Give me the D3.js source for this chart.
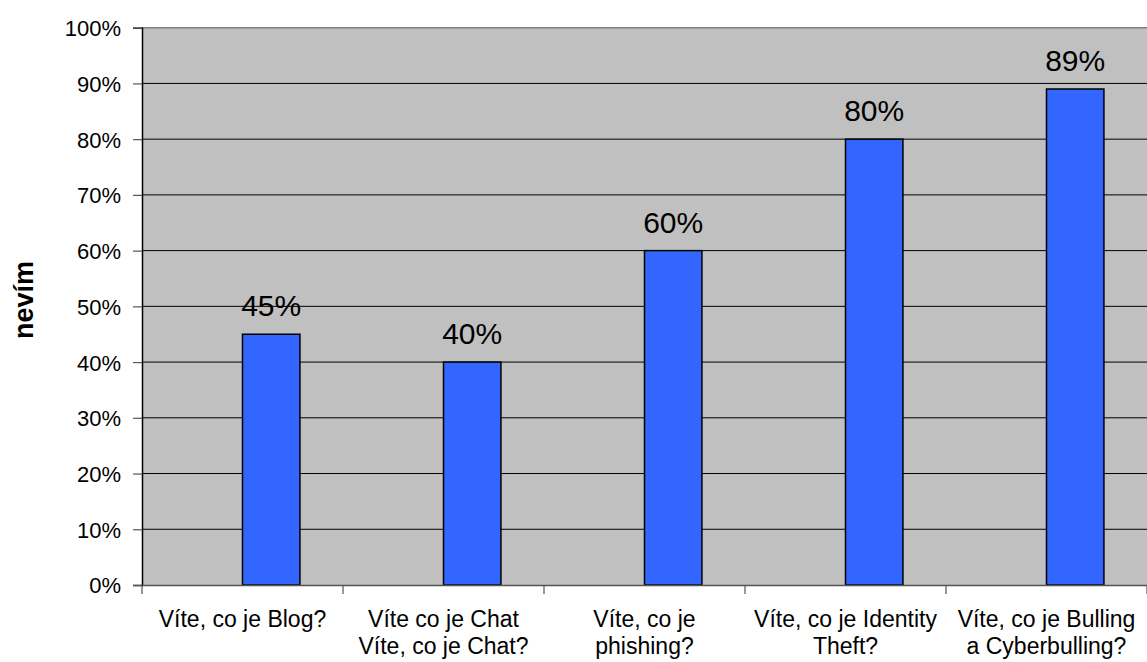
<!DOCTYPE html>
<html>
<head>
<meta charset="utf-8">
<script src="https://cdn.jsdelivr.net/npm/d3@7"></script>
<style>
  body { margin: 0; background: #fff; }
  svg text { font-family: Arial, "Liberation Sans", sans-serif; fill: #000; }
</style>
</head>
<body>
<div id="chart"></div>
<script>
// chart data
var categories = ["Blog", "Chat", "phishing", "Identity Theft", "Bulling"];
var categoryLines = [
    ["Víte, co je Blog?"],
    ["Víte co je Chat", "Víte, co je Chat?"],
    ["Víte, co je", "phishing?"],
    ["Víte, co je Identity", "Theft?"],
    ["Víte, co je Bulling", "a Cyberbulling?"]
];
// the chart only shows the second series slot ("nevím"), first slot is empty
var seriesSlots = ["vím", "nevím"];
var nevimValues = [45, 40, 60, 80, 89];
var yTicks = [0, 10, 20, 30, 40, 50, 60, 70, 80, 90, 100];

var W = 1147, H = 662;
var plotLeft = 142, plotRight = 1147, plotTop = 27.7, plotBottom = 585;

var svg = d3.select("#chart").append("svg")
    .attr("width", W)
    .attr("height", H);

var x0 = d3.scaleBand().domain(categories).range([plotLeft, plotRight]).padding(0);
var x1 = d3.scaleBand().domain(seriesSlots)
    .range([0, x0.bandwidth()])
    .paddingInner(0)
    .paddingOuter(0.75);
var y = d3.scaleLinear().domain([0, 100]).range([plotBottom, plotTop]);

// plot background
svg.append("rect")
    .attr("x", plotLeft).attr("y", plotTop)
    .attr("width", plotRight - plotLeft).attr("height", plotBottom - plotTop)
    .attr("fill", "#c0c0c0");

// gridlines
svg.append("g").selectAll("line")
    .data(yTicks.filter(d => d > 0 && d < 100))
    .join("line")
    .attr("x1", plotLeft).attr("x2", plotRight)
    .attr("y1", d => y(d)).attr("y2", d => y(d))
    .attr("stroke", "#000").attr("stroke-width", 1);

// top border
svg.append("line")
    .attr("x1", plotLeft).attr("x2", plotRight)
    .attr("y1", y(100)).attr("y2", y(100))
    .attr("stroke", "#808080").attr("stroke-width", 1.5);

// bars
var data = categories.map((c, i) => ({cat: c, v: nevimValues[i]}));
svg.append("g").selectAll("rect")
    .data(data)
    .join("rect")
    .attr("x", d => x0(d.cat) + x1("nevím"))
    .attr("y", d => y(d.v))
    .attr("width", x1.bandwidth())
    .attr("height", d => y(0) - y(d.v))
    .attr("fill", "#3366ff")
    .attr("stroke", "#000")
    .attr("stroke-width", 1.5);

// value labels
svg.append("g").selectAll("text")
    .data(data)
    .join("text")
    .attr("x", d => x0(d.cat) + x1("nevím") + x1.bandwidth() / 2)
    .attr("y", d => y(d.v) - 18)
    .attr("text-anchor", "middle")
    .attr("font-size", 30)
    .text(d => d.v + "%");

// y axis
var yAxis = svg.append("g")
    .attr("transform", "translate(" + plotLeft + ",0)")
    .call(d3.axisLeft(y).tickValues(yTicks).tickSize(9).tickPadding(12)
        .tickFormat(d => d + "%"));
yAxis.select(".domain").attr("stroke", "#000").attr("stroke-width", 1.5);
yAxis.selectAll(".tick line").attr("stroke", "#555").attr("stroke-width", 1.2);
yAxis.selectAll(".tick text")
    .attr("font-size", 22)
    .attr("font-family", "Arial, 'Liberation Sans', sans-serif")
    .attr("dy", "0.36em");

// x axis
var xAxis = svg.append("g")
    .attr("transform", "translate(0," + plotBottom + ")")
    .call(d3.axisBottom(x0).tickValues([]).tickSizeOuter(0));
xAxis.select(".domain").attr("stroke", "#555").attr("stroke-width", 1.5);

// category boundary ticks
svg.append("g").selectAll("line")
    .data(d3.range(categories.length + 1))
    .join("line")
    .attr("x1", i => plotLeft + i * x0.step()).attr("x2", i => plotLeft + i * x0.step())
    .attr("y1", plotBottom).attr("y2", plotBottom + 9)
    .attr("stroke", "#555").attr("stroke-width", 1.2);

// category labels
svg.append("g").selectAll("text")
    .data(categories)
    .join("text")
    .attr("x", d => x0(d) + x0.bandwidth() / 2)
    .attr("y", 627)
    .attr("text-anchor", "middle")
    .attr("font-size", 23)
    .selectAll("tspan")
    .data((d, i) => categoryLines[i])
    .join("tspan")
    .attr("x", function() { return this.parentNode.getAttribute("x"); })
    .attr("dy", (d, j) => j === 0 ? 0 : 26.5)
    .text(d => d);

// y axis title
svg.append("text")
    .attr("transform", "translate(33,300) rotate(-90)")
    .attr("text-anchor", "middle")
    .attr("font-size", 27)
    .attr("font-weight", "bold")
    .text("nevím");
</script>
</body>
</html>
